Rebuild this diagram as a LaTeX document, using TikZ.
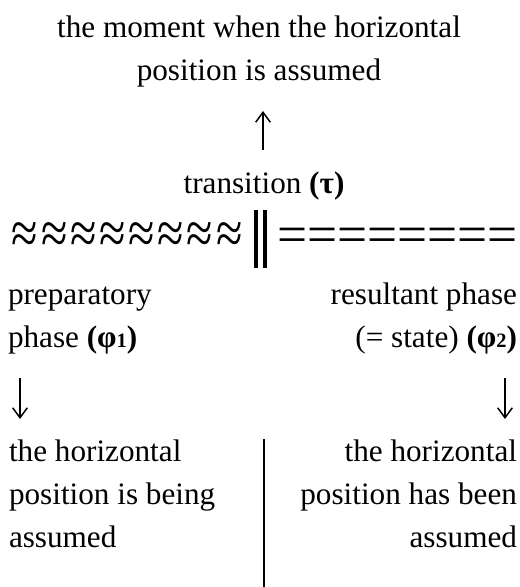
\documentclass[tikz,border=0pt]{standalone}
\usepackage{fontspec}
\setmainfont{Liberation Serif}
\usetikzlibrary{arrows.meta}
\newcommand\subdig[1]{\raisebox{-0.6pt}{\fontsize{15.3}{15.3}\selectfont #1}}
\newcommand\wv{≈\kern2.1pt}
\begin{document}
\begin{tikzpicture}[x=0.75pt,y=-0.75pt,
  every node/.style={inner sep=0pt,outer sep=0pt},
  txt/.style={font=\fontsize{23.4}{32}\selectfont},
  sym/.style={font=\fontsize{40}{40}\selectfont},
  wavy/.style={font=\fontsize{36}{36}\selectfont},
  arr/.style={line width=1.1pt,-{Straight Barb[length=7.5pt,width=11pt,line width=1.1pt]}},
  barline/.style={line width=3.4pt},
  divline/.style={line width=1.5pt}]
\useasboundingbox (0,0) rectangle (520,587);

\node[txt,anchor=base,align=center] (title) at (259,80) {the moment when the horizontal\\position is assumed};
\node[txt,anchor=base] (trans) at (264,193) {transition \textbf{(τ)}};

\node[wavy,anchor=base west] (waves) at (12,253.5) {\scalebox{1}[1.25]{\wv\wv\wv\wv\wv\wv\wv≈}};
\node[sym,anchor=base west] (eqs) at (277,252) {========};
\coordinate (b1t) at (256,210); \coordinate (b1b) at (256,268);
\coordinate (b2t) at (265,210); \coordinate (b2b) at (265,268);
\draw[barline] (b1t) -- (b1b);
\draw[barline] (b2t) -- (b2b);

\node[txt,anchor=base west,align=left] (prep) at (8,347) {preparatory\\phase \textbf{(φ\subdig{1})}};
\node[txt,anchor=base east,align=right] (res) at (517,347) {resultant phase\\(= state) \textbf{(φ\subdig{2})}};

\node[txt,anchor=base west,align=left] (lb) at (9,547) {the horizontal\\position is being\\assumed};
\node[txt,anchor=base east,align=right] (rb) at (517,547) {the horizontal\\position has been\\assumed};

\coordinate (upS) at (263,150); \coordinate (upE) at (263,111);
\draw[arr] (upS) -- (upE);
\coordinate (dlS) at (20,378); \coordinate (dlE) at (20,419);
\draw[arr] (dlS) -- (dlE);
\coordinate (drS) at (505,378); \coordinate (drE) at (505,419);
\draw[arr] (drS) -- (drE);

\coordinate (dvT) at (264,439); \coordinate (dvB) at (264,587);
\draw[divline] (dvT) -- (dvB);
\end{tikzpicture}
\end{document}
